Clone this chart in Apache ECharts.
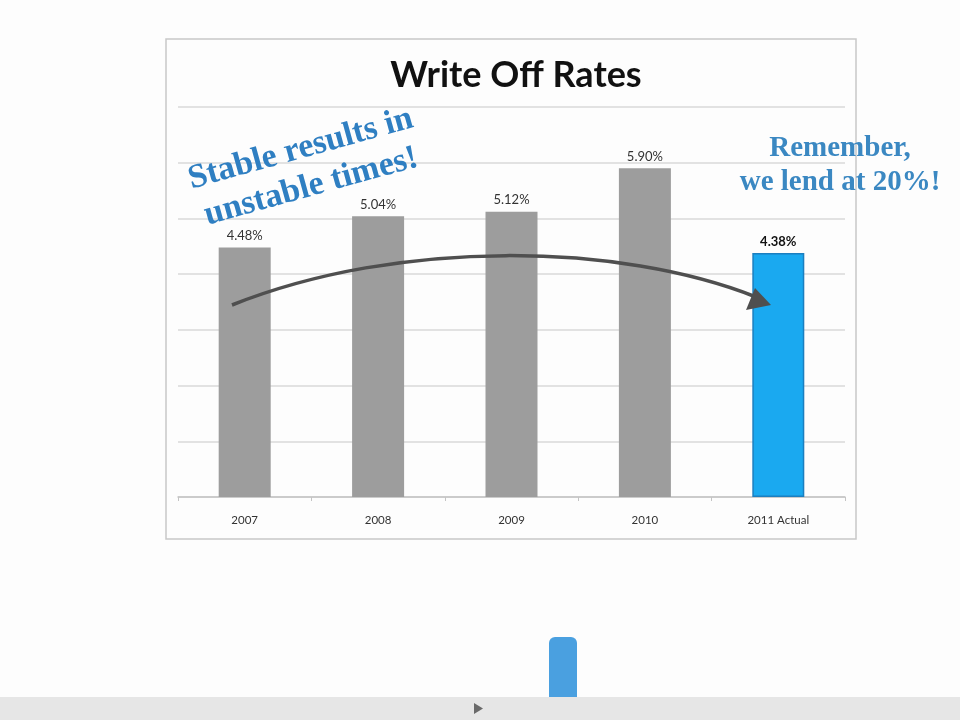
<!DOCTYPE html>
<html>
<head>
<meta charset="utf-8">
<title>Write Off Rates</title>
<script src="https://cdn.jsdelivr.net/npm/echarts@6/dist/echarts.min.js"></script>
<style>
    html,body{margin:0;padding:0;background:#fdfdfd;}
    #chart-div{width:960px;height:720px;}
</style>
</head>
<body>
<div id="chart-div"></div>
<script>
// 数据
var categories=['2007','2008','2009','2010','2011 Actual'];
var rates=[4.48,5.04,5.12,5.90,4.38];
var y_min=0,y_max=7,y_step=1;
var note_left=['Stable results in','unstable times!'];
var note_right=['Remember,','we lend at 20%!'];

(function(){
    var last=rates.length-1;
    var bar_data=rates.map(function(v,i){                                     //最后一根柱子单独上色
        if(i==last){
            return {
                value:v,
                itemStyle:{color:'#1aa9f0',borderColor:'#1b7fc0',borderWidth:1.5},
                label:{color:'#111',fontWeight:'bold'}
            };
        }
        return v;
    });

    var myChart=echarts.init(document.getElementById('chart-div'));
    var option={
        backgroundColor:'#fdfdfd',
        animation:false,
        title:{
            text:'Write Off Rates',
            left:511,
            top:52,
            textAlign:'center',
            textStyle:{fontFamily:'Lato',fontWeight:'bold',fontSize:36,color:'#111'}
        },
        grid:{left:178,right:115,top:107,bottom:223},
        xAxis:{
            type:'category',
            data:categories,
            axisLine:{lineStyle:{color:'#c4c4c4',width:1.5}},
            axisTick:{show:true,length:4,lineStyle:{color:'#c4c4c4'}},
            axisLabel:{margin:17,fontFamily:'Lato',fontSize:11.5,color:'#333'}
        },
        yAxis:{
            type:'value',
            min:y_min,
            max:y_max,
            interval:y_step,
            axisLabel:{show:false},
            axisLine:{show:false},
            axisTick:{show:false},
            splitLine:{lineStyle:{color:'#d9d9d9',width:1.5}}
        },
        series:[{
            type:'bar',
            data:bar_data,
            barWidth:52,
            itemStyle:{color:'#9d9d9d'},
            label:{
                show:true,
                position:'top',
                distance:5,
                fontFamily:'Lato',
                fontSize:13,
                color:'#333',
                formatter:function(p){
                    return p.value.toFixed(2)+'%';
                }
            }
        }],
        graphic:[
            {                                                                  //外框
                type:'rect',
                shape:{x:166,y:39,width:690,height:500},
                style:{fill:'none',stroke:'#c8c8c8',lineWidth:1.5},
                z:-1
            },
            {                                                                  //弧形箭头
                type:'bezierCurve',
                shape:{x1:232,y1:305,cpx1:400,cpy1:238,cpx2:620,cpy2:243,x2:756,y2:297},
                style:{fill:'none',stroke:'#4f4f4f',lineWidth:3.5},
                z:10
            },
            {
                type:'polygon',
                shape:{points:[[771,305],[746,310],[755,288]]},
                style:{fill:'#4f4f4f'},
                z:10
            },
            {
                type:'text',
                x:306,
                y:168,
                rotation:15.5*Math.PI/180,
                style:{
                    text:note_left.join('\n'),
                    x:0,y:0,
                    align:'center',
                    verticalAlign:'middle',
                    fontFamily:'Liberation Serif',
                    fontWeight:'bold',
                    fontSize:34,
                    lineHeight:39,
                    fill:'#2f7fc2'
                },
                z:12
            },
            {
                type:'text',
                x:840,
                y:166,
                style:{
                    text:note_right.join('\n'),
                    x:0,y:0,
                    align:'center',
                    verticalAlign:'middle',
                    fontFamily:'Liberation Serif',
                    fontWeight:'bold',
                    fontSize:29,
                    lineHeight:34,
                    fill:'#3b88c2'
                },
                z:12
            },
            {                                                                  //播放条
                type:'rect',
                shape:{x:0,y:697,width:960,height:23},
                style:{fill:'#e6e6e6'}
            },
            {
                type:'polygon',
                shape:{points:[[474,703],[483,708.5],[474,714]]},
                style:{fill:'#6a6a6a'}
            },
            {
                type:'rect',
                shape:{x:549,y:637,width:28,height:60,r:[6,6,0,0]},
                style:{fill:'#4aa0e0'}
            }
        ]
    };
    myChart.setOption(option);
})();
</script>
</body>
</html>
